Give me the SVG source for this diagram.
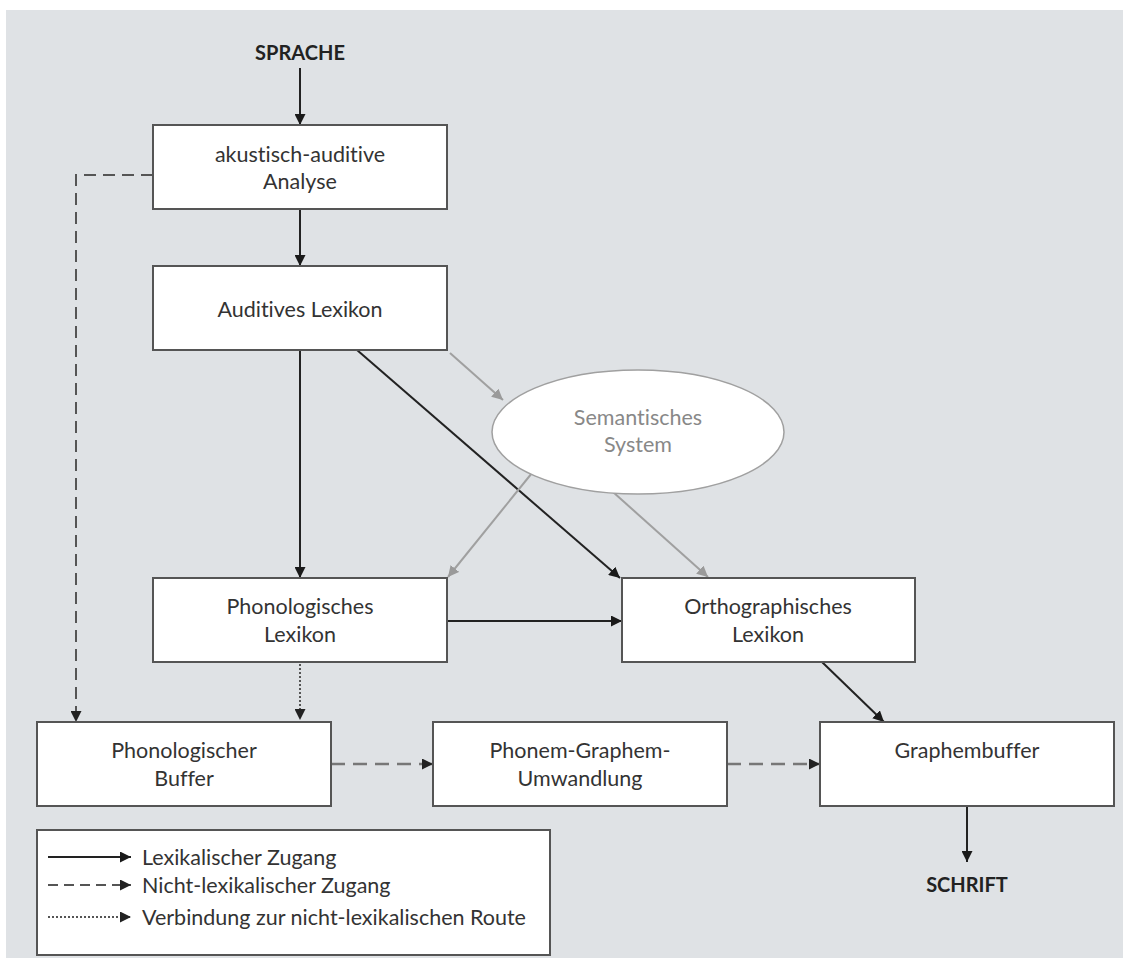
<svg xmlns="http://www.w3.org/2000/svg" width="1123" height="958" viewBox="0 0 1123 958">
<defs>
<marker id="ah" viewBox="0 0 10 10" refX="10" refY="5" markerWidth="11" markerHeight="11" markerUnits="userSpaceOnUse" orient="auto"><path d="M0,0 L10,5 L0,10 z" fill="#1a1a1a"/></marker>
<marker id="ahg" viewBox="0 0 10 10" refX="10" refY="5" markerWidth="11" markerHeight="11" markerUnits="userSpaceOnUse" orient="auto"><path d="M0,0 L10,5 L0,10 z" fill="#9a9a9a"/></marker>
<marker id="ahd" viewBox="0 0 10 10" refX="10" refY="5" markerWidth="11" markerHeight="11" markerUnits="userSpaceOnUse" orient="auto"><path d="M0,0 L10,5 L0,10 z" fill="#222"/></marker>
</defs>
<style>
.box{fill:#fff;stroke:#555;stroke-width:2}
.t{font-family:Lato,"Open Sans",sans-serif;font-size:21.5px;fill:#333;text-anchor:middle;font-variant-ligatures:none}
.b{font-family:Lato,"Open Sans",sans-serif;font-size:20px;font-weight:bold;fill:#222;text-anchor:middle}
.lg{font-family:Lato,"Open Sans",sans-serif;font-size:21.5px;fill:#333;font-variant-ligatures:none}
.s{stroke:#222;stroke-width:2;fill:none;marker-end:url(#ah)}
.g{stroke:#a0a0a0;stroke-width:2;fill:none;marker-end:url(#ahg)}
.d{stroke:#555;stroke-width:2;fill:none;stroke-dasharray:12 7;marker-end:url(#ahd)}
.dg{stroke:#777;stroke-width:2.5;fill:none;stroke-dasharray:14 8;marker-end:url(#ahd)}
.dt{stroke:#555;stroke-width:2;fill:none;stroke-dasharray:2 2;marker-end:url(#ahd)}
</style>
<rect x="0" y="0" width="1123" height="958" fill="#fff"/>
<rect x="6" y="10" width="1117" height="948" fill="#dfe2e5"/>
<g id="connectors">
<line class="s" x1="300" y1="68" x2="300" y2="125"/>
<line class="s" x1="300" y1="209" x2="300" y2="266"/>
<line class="s" x1="300" y1="350" x2="300" y2="578"/>
<line class="s" x1="357" y1="350" x2="620" y2="578"/>
<line class="g" x1="450" y1="353" x2="503" y2="400"/>
<line class="g" x1="532" y1="473" x2="448" y2="577"/>
<line class="g" x1="613" y1="492" x2="708" y2="577"/>
<line class="s" x1="447" y1="621" x2="622" y2="621"/>
<line class="s" x1="822" y1="662" x2="884" y2="722"/>
<line class="s" x1="967" y1="806" x2="967" y2="862"/>
<polyline class="d" points="153,175 76,175 76,722"/>
<line class="dt" x1="300" y1="664" x2="300" y2="720"/>
<line class="dg" x1="331" y1="764" x2="433" y2="764"/>
<line class="dg" x1="727" y1="764" x2="820" y2="764"/>
</g>
<g id="sprache"><text class="b" x="300" y="60">SPRACHE</text></g>
<g id="analyse"><rect class="box" x="153" y="125" width="294" height="84"/><text class="t" x="300" y="162">akustisch-auditive</text><text class="t" x="300" y="189">Analyse</text></g>
<g id="audlex"><rect class="box" x="153" y="266" width="294" height="84"/><text class="t" x="300" y="317">Auditives Lexikon</text></g>
<g id="sem"><ellipse cx="638" cy="432" rx="146" ry="62" fill="#fff" stroke="#a0a0a0" stroke-width="1.5"/><text class="t" x="638" y="425" style="fill:#888">Semantisches</text><text class="t" x="638" y="452" style="fill:#888">System</text></g>
<g id="phonlex"><rect class="box" x="153" y="578" width="294" height="84"/><text class="t" x="300" y="614">Phonologisches</text><text class="t" x="300" y="642">Lexikon</text></g>
<g id="ortholex"><rect class="box" x="622" y="578" width="293" height="84"/><text class="t" x="768" y="614">Orthographisches</text><text class="t" x="768" y="642">Lexikon</text></g>
<g id="phonbuf"><rect class="box" x="37" y="722" width="294" height="84"/><text class="t" x="184" y="758">Phonologischer</text><text class="t" x="184" y="786">Buffer</text></g>
<g id="pgu"><rect class="box" x="433" y="722" width="294" height="84"/><text class="t" x="580" y="758">Phonem-Graphem-</text><text class="t" x="580" y="786">Umwandlung</text></g>
<g id="graphbuf"><rect class="box" x="820" y="722" width="294" height="84"/><text class="t" x="967" y="758">Graphembuffer</text></g>
<g id="schrift"><text class="b" x="967" y="892">SCHRIFT</text></g>
<g id="legend">
<rect class="box" x="37" y="830" width="513" height="125"/>
<line class="s" x1="48" y1="857" x2="131" y2="857"/>
<text class="lg" x="142" y="865">Lexikalischer Zugang</text>
<line class="d" x1="48" y1="885" x2="131" y2="885" style="stroke-dasharray:10 6"/>
<text class="lg" x="142" y="893">Nicht-lexikalischer Zugang</text>
<line class="dt" x1="48" y1="917" x2="131" y2="917"/>
<text class="lg" x="142" y="925">Verbindung zur nicht-lexikalischen Route</text>
</g>
</svg>
